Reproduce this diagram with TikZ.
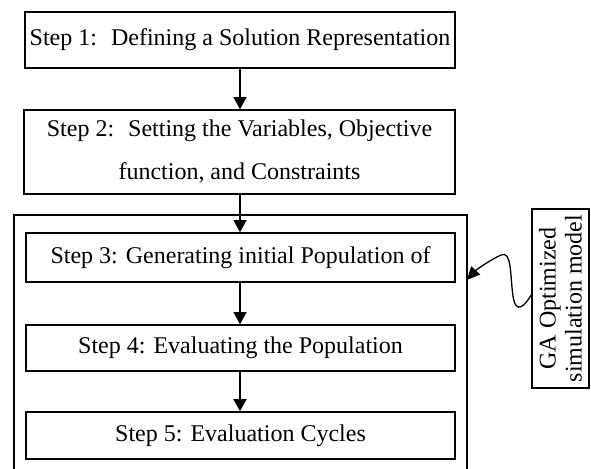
\documentclass[tikz,border=0pt]{standalone}
\usepackage{fontspec}
\setmainfont{Liberation Serif}
\usetikzlibrary{arrows.meta}
\begin{document}
\begin{tikzpicture}[x=1pt,y=-1pt,
  stepbox/.style={draw, line width=1.6pt, inner sep=0pt, align=center,
    font=\fontsize{24}{43}\selectfont},
  flow/.style={line width=1.3pt, -{Triangle[length=12pt,width=13pt]}},
  frame/.style={line width=1.3pt}]
\useasboundingbox (0,0) rectangle (591,468);

% main steps
\node[stepbox, minimum width=430pt, minimum height=56pt] (s1) at (240,40)
  {Step 1:~ Defining a Solution Representation};
\node[stepbox, minimum width=431pt, minimum height=84pt] (s2) at (239.5,152)
  {Step 2:~ Setting the Variables, Objective\\function, and Constraints};
\node[stepbox, minimum width=429pt, minimum height=49pt] (s3) at (240.5,257.5)
  {Step 3: Generating initial Population of};
\node[stepbox, minimum width=429pt, minimum height=46pt] (s4) at (240.5,348)
  {Step 4: Evaluating the Population};
\node[stepbox, minimum width=429pt, minimum height=47pt] (s5) at (240.5,435.5)
  {Step 5: Evaluation Cycles};

% enclosing frame around steps 3-5, open at the lower edge
\coordinate (fbl) at (14,475);
\coordinate (ftl) at (14,215);
\coordinate (ftr) at (467,215);
\coordinate (fbr) at (467,475);
\draw[frame] (fbl) -- (ftl) -- (ftr) -- (fbr);
\coordinate (fin) at (467,280);

% side label
\node[draw, line width=1.4pt, rotate=90, inner sep=0pt, align=center,
  minimum width=179pt, minimum height=57pt,
  font=\fontsize{24}{26}\selectfont] (ga) at (560.5,298.5)
  {GA Optimized\\simulation model};
\coordinate (gaout) at (ga.north |- 0,295);

% arrows
\draw[flow] (s1.south -| 240,0) -- (s2.north -| 240,0);
\draw[flow] (s2.south -| 240,0) -- (s3.north -| 240,0);
\draw[flow] (s3.south -| 240,0) -- (s4.north -| 240,0);
\draw[flow] (s4.south -| 240,0) -- (s5.north -| 240,0);

\draw[line width=1.3pt, -{Triangle[length=13pt,width=12pt]}]
  (gaout) .. controls (525,305) and (516,316) .. (513,296)
  .. controls (510,276) and (512,250) .. (501,255)
  .. controls (490,260) and (476,270) .. (fin);
\end{tikzpicture}
\end{document}
